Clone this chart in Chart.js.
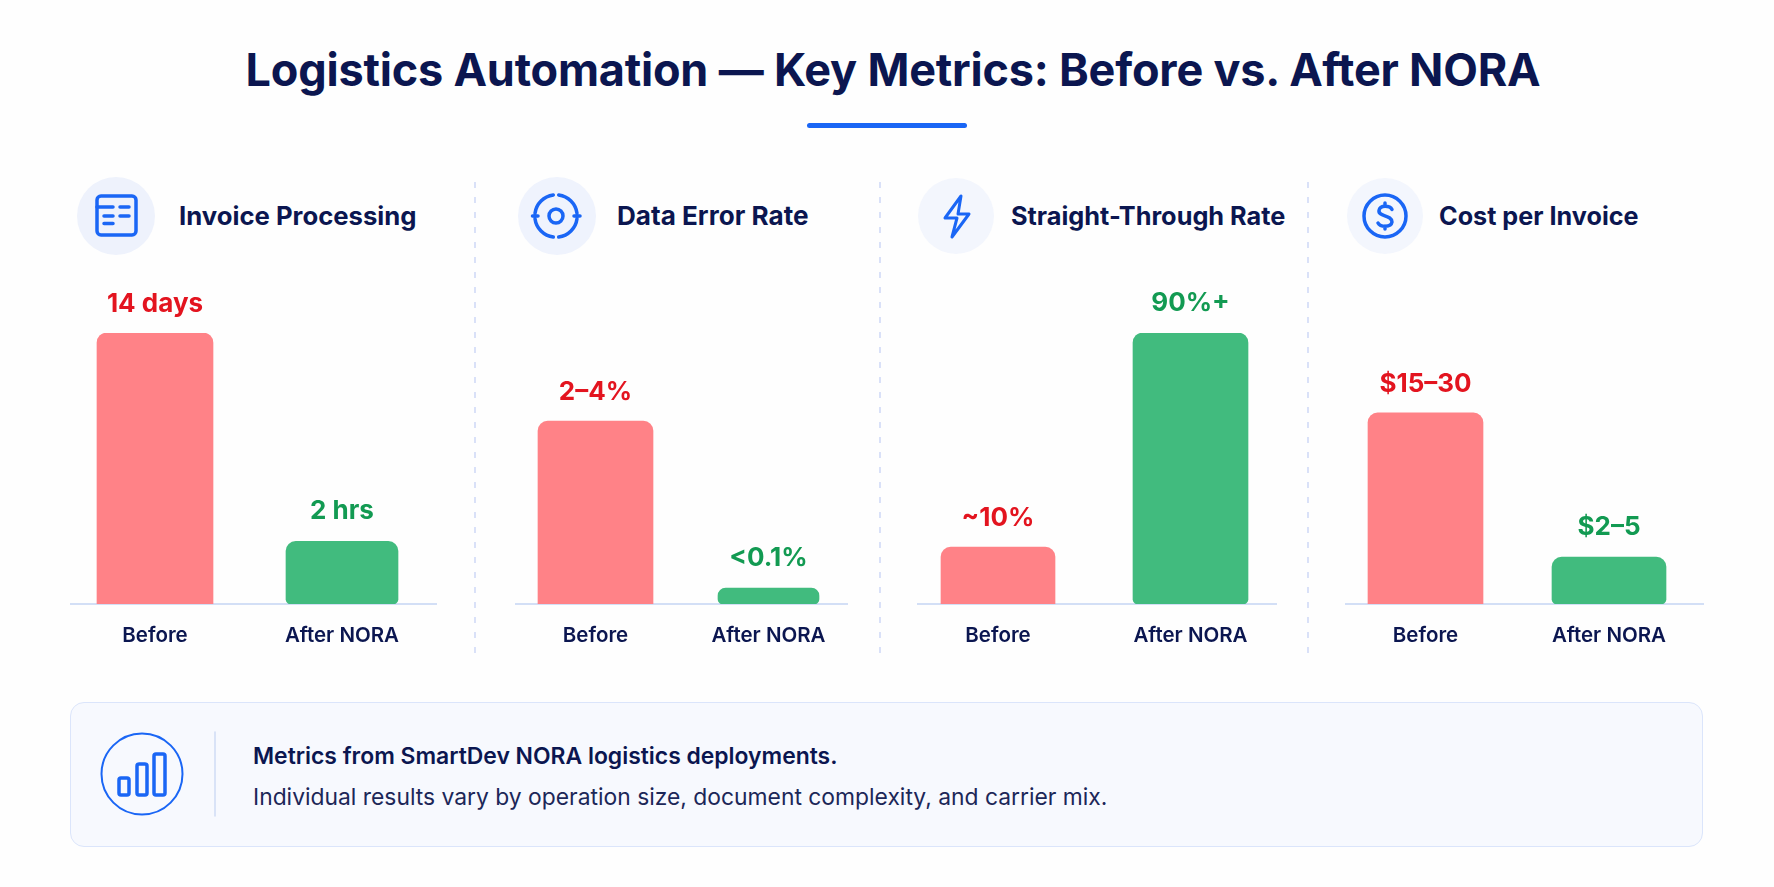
<!DOCTYPE html>
<html lang="en">
<head>
<meta charset="utf-8">
<title>Logistics Automation Key Metrics</title>
<script src="https://cdn.jsdelivr.net/npm/chart.js@4"></script>
<style>
    html, body { margin: 0; padding: 0; background: #fefefe; }
    body { position: relative; width: 1774px; height: 887px; overflow: hidden; font-family: Inter, "Noto Sans", sans-serif; color: #0b1650; }
    h1 { position: absolute; left: 6px; width: 1774px; top: 42px; margin: 0; text-align: center; font-size: 45px; line-height: 56px; font-weight: 700; letter-spacing: -0.2px; }
    .accent { position: absolute; left: 807px; top: 123px; width: 160px; height: 5px; border-radius: 3px; background: #1a66f5; }
    .decor { position: absolute; left: 0; top: 0; }
    canvas { position: absolute; }
    .panel-title { position: absolute; top: 198px; font-size: 25.8px; line-height: 36px; font-weight: 650; white-space: nowrap; }
    .note { position: absolute; left: 70px; top: 702px; width: 1631px; height: 143px; border: 1.5px solid #dbe5fb; border-radius: 14px; background: #f7f9fe; }
    .note-bold { position: absolute; left: 253px; top: 741px; font-size: 22.9px; line-height: 30px; font-weight: 600; white-space: nowrap; }
    .note-text { position: absolute; left: 253px; top: 782px; font-size: 22.85px; line-height: 30px; font-weight: 400; color: #1c2758; white-space: nowrap; }
</style>
</head>
<body>
<h1>Logistics Automation — Key Metrics: Before vs. After NORA</h1>
<div class="accent"></div>
<div class="note"></div>

<svg class="decor" width="1774" height="887" fill="none" stroke="#1a66f5" stroke-width="3.5" stroke-linecap="round" stroke-linejoin="round">
    <!-- dashed dividers -->
    <g stroke="#d6def8" stroke-width="1.8" stroke-dasharray="6 9" stroke-linecap="butt">
        <line x1="475" y1="182" x2="475" y2="658"/>
        <line x1="880" y1="182" x2="880" y2="658"/>
        <line x1="1308" y1="182" x2="1308" y2="658"/>
    </g>
    <!-- icon discs -->
    <g stroke="none">
        <circle cx="116" cy="216" r="39" fill="#eef2fc"/>
        <circle cx="557" cy="216" r="39" fill="#eff3fd"/>
        <circle cx="956" cy="216" r="38" fill="#f3f6fd"/>
        <circle cx="1385" cy="216" r="38" fill="#f3f6fd"/>
    </g>
    <!-- invoice -->
    <rect x="97" y="196" width="39" height="39" rx="4"/>
    <path d="M97 207H113M120 207H129M104 216H113M120 216H129M104 223.500H113"/>
    <!-- target -->
    <circle cx="556" cy="216" r="7"/>
    <path d="M553.300 195A21.200 21.200 0 0 0 535 213.300M558.700 195A21.200 21.200 0 0 1 577 213.300M535 218.700A21.200 21.200 0 0 0 553.300 237M558.700 237A21.200 21.200 0 0 0 577 218.700M532.500 216H538M574 216H580"/>
    <!-- bolt -->
    <path d="M961 196L945 218H957L952 237L969 214H958Z" stroke-width="3"/>
    <!-- dollar -->
    <circle cx="1385" cy="216" r="21"/>
    <path d="M1392 209.500C1390 205.500 1380 204.500 1379 210.500C1378 217 1392 214.500 1392 222C1391 228 1380 227 1378 223M1385 203V206M1385 226V229"/>
    <!-- note icon -->
    <circle cx="142" cy="774" r="40.500" stroke-width="2"/>
    <rect x="119" y="778" width="10" height="17" rx="2"/>
    <rect x="137" y="764" width="10" height="31" rx="2"/>
    <rect x="154" y="754" width="11" height="41" rx="2"/>
    <line x1="215" y1="732" x2="215" y2="816" stroke="#cfdbf5" stroke-width="1.500"/>
</svg>

<div class="panel-title" style="left:179px;font-size:25.7px">Invoice Processing</div>
<div class="panel-title" style="left:617px;font-size:26.1px">Data Error Rate</div>
<div class="panel-title" style="left:1011px;font-size:25.3px">Straight-Through Rate</div>
<div class="panel-title" style="left:1439px;font-size:25.2px">Cost per Invoice</div>

<canvas id="chart0"></canvas>
<canvas id="chart1"></canvas>
<canvas id="chart2"></canvas>
<canvas id="chart3"></canvas>

<div class="note-bold">Metrics from SmartDev NORA logistics deployments.</div>
<div class="note-text">Individual results vary by operation size, document complexity, and carrier mix.</div>

<script>
// Bars are illustrative in the original, so values are relative heights (tallest = 100)
const categories = ['Before', 'After NORA'];
const beforeValues = [100, 67.5, 21, 70.5];
const afterValues = [23.1, 5.9, 100, 17.3];
const beforeLabels = ['14 days', '2–4%', '~10%', '$15–30'];
const afterLabels = ['2 hrs', '<0.1%', '90%+', '$2–5'];

// Layout of each small chart on the page
const panels = [
    { centers: [155, 342], axis: [70, 437], widths: [116, 112] },
    { centers: [595.5, 768.5], axis: [515, 848], widths: [115, 101] },
    { centers: [998, 1190.5], axis: [917, 1277], widths: [114, 115] },
    { centers: [1425.5, 1609], axis: [1345, 1704], widths: [115, 114] }
];

const PLOT_TOP = 333;
const PLOT_BOTTOM = 604;
const CANVAS_TOP = 280;
const CANVAS_BOTTOM = 660;

// Value text above each bar
const valueLabelPlugin = {
    id: 'valueLabels',
    afterDatasetsDraw(chart) {
        const ctx = chart.ctx;
        ctx.save();
        ctx.font = '700 26px Inter';
        ctx.textAlign = 'center';
        ctx.textBaseline = 'alphabetic';
        chart.data.datasets.forEach((ds, i) => {
            chart.getDatasetMeta(i).data.forEach((bar, j) => {
                if (ds.data[j] === null) return;
                ctx.fillStyle = ds.labelColor;
                ctx.fillText(ds.valueLabel, bar.x, bar.y - ds.labelGap);
            });
        });
        ctx.restore();
    }
};

// Thin baseline, wider than the category band on some panels
const baselinePlugin = {
    id: 'baseline',
    beforeDatasetsDraw(chart, args, opts) {
        const ctx = chart.ctx;
        const y = chart.scales.y.getPixelForValue(0);
        ctx.save();
        ctx.strokeStyle = '#d3dff6';
        ctx.lineWidth = 2;
        ctx.beginPath();
        ctx.moveTo(opts.from, y);
        ctx.lineTo(opts.to, y);
        ctx.stroke();
        ctx.restore();
    }
};

panels.forEach((panel, i) => {
    const bandWidth = 2 * (panel.centers[1] - panel.centers[0]);
    const areaLeft = panel.centers[0] - bandWidth / 4;
    const areaRight = areaLeft + bandWidth;
    const canvasLeft = Math.floor(Math.min(areaLeft, panel.axis[0])) - 4;
    const canvasRight = Math.ceil(Math.max(areaRight, panel.axis[1])) + 4;

    const canvas = document.getElementById('chart' + i);
    canvas.style.left = canvasLeft + 'px';
    canvas.style.top = CANVAS_TOP + 'px';
    canvas.width = canvasRight - canvasLeft;
    canvas.height = CANVAS_BOTTOM - CANVAS_TOP;

    new Chart(canvas, {
        type: 'bar',
        data: {
            labels: categories,
            datasets: [
                {
                    label: categories[0],
                    data: [beforeValues[i], null],
                    backgroundColor: '#ff8287',
                    barThickness: panel.widths[0],
                    borderSkipped: false,
                    borderRadius: { topLeft: 10, topRight: 10, bottomLeft: 0, bottomRight: 0 },
                    valueLabel: beforeLabels[i],
                    labelColor: '#e3141f',
                    labelGap: 21
                },
                {
                    label: categories[1],
                    data: [null, afterValues[i]],
                    backgroundColor: '#41bb7e',
                    barThickness: panel.widths[1],
                    borderSkipped: false,
                    borderRadius: { topLeft: 10, topRight: 10, bottomLeft: 5, bottomRight: 5 },
                    valueLabel: afterLabels[i],
                    labelColor: '#129a52',
                    labelGap: 22
                }
            ]
        },
        options: {
            responsive: false,
            animation: false,
            devicePixelRatio: 1,
            layout: {
                padding: {
                    top: PLOT_TOP - CANVAS_TOP,
                    left: areaLeft - canvasLeft,
                    right: canvasRight - areaRight,
                    bottom: 0
                }
            },
            plugins: {
                legend: { display: false },
                title: { display: false },
                tooltip: { enabled: false },
                baseline: { from: panel.axis[0] - canvasLeft, to: panel.axis[1] - canvasLeft }
            },
            scales: {
                x: {
                    stacked: true,
                    border: { display: false },
                    grid: { display: false },
                    afterFit(scale) { scale.height = CANVAS_BOTTOM - PLOT_BOTTOM; },
                    ticks: {
                        autoSkip: false,
                        maxRotation: 0,
                        padding: 12,
                        color: '#0b1650',
                        font: { family: 'Inter', size: 20.5, weight: '600' }
                    }
                },
                y: {
                    display: false,
                    stacked: true,
                    min: 0,
                    max: 100
                }
            }
        },
        plugins: [baselinePlugin, valueLabelPlugin]
    });
});
</script>
</body>
</html>
